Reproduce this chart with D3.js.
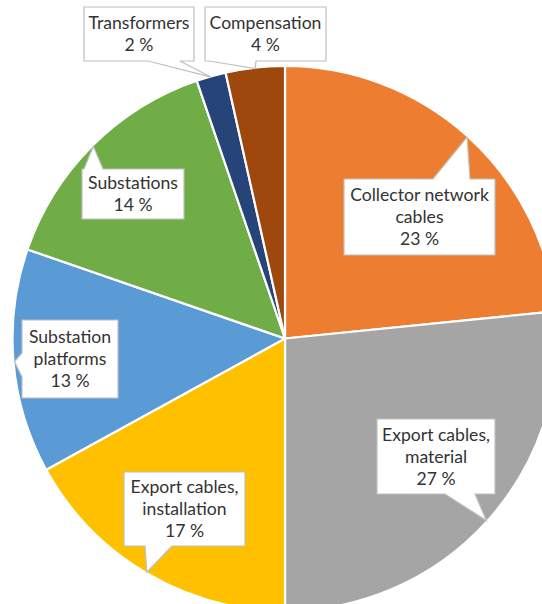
<!DOCTYPE html>
<html>
<head>
<meta charset="utf-8">
<script src="https://cdn.jsdelivr.net/npm/d3@7"></script>
<style>
html,body{margin:0;padding:0;background:#fff;}
svg{display:block;}
</style>
</head>
<body>
<svg id="chart" width="542" height="604"></svg>
<script>
// ---- data ----
const categories = ["Collector network cables", "Export cables, material", "Export cables, installation",
  "Substation platforms", "Substations", "Transformers", "Compensation"];
const shares = [23.4, 26.6, 17.0, 13.3, 14.45, 1.75, 3.5];
const shareLabels = ["23 %", "27 %", "17 %", "13 %", "14 %", "2 %", "4 %"];
const labelLines = [["Collector network", "cables"], ["Export cables,", "material"], ["Export cables,", "installation"],
  ["Substation", "platforms"], ["Substations"], ["Transformers"], ["Compensation"]];
const colors = ["#ED7D31", "#A5A5A5", "#FFC000", "#5B9BD5", "#70AD47", "#264478", "#9E480E"];

// ---- layout of callout boxes (x0,y0,x1,y1, side of wedge, wedge base) ----
const callouts = [
  {box: [344, 179, 495, 255], side: "top", base: [433, 470]},
  {box: [377, 419, 495, 494], side: "bottom", base: [445, 475]},
  {box: [124, 472, 245, 546], side: "bottom", base: [145, 172]},
  {box: [22, 320, 118, 398], side: "left", base: [353, 377]},
  {box: [82, 169, 184, 219], side: "top", base: [84, 103]},
  {box: [84, 7, 194, 61], side: "bottom", base: [148, 180]},
  {box: [205, 7, 326, 61], side: "bottom", base: [209, 256]}
];

const cx = 285, cy = 338.5, R = 272.5;
const svg = d3.select("#chart");
const data = categories.map((c, i) => ({cat: c, value: shares[i], i}));

const pie = d3.pie().value(d => d.value).sort(null);
const arc = d3.arc().innerRadius(0).outerRadius(R);
const arcs = pie(data);

const g = svg.append("g").attr("transform", `translate(${cx},${cy})`);
g.selectAll("path.slice").data(arcs).join("path")
  .attr("class", "slice")
  .attr("d", arc)
  .attr("fill", d => colors[d.data.i])
  .attr("stroke", "#fff")
  .attr("stroke-width", 2.2)
  .attr("stroke-linejoin", "round");

function calloutPath(c, tip) {
  const [x0, y0, x1, y1] = c.box;
  const [b0, b1] = c.base;
  const [tx, ty] = tip;
  const p = d3.path();
  p.moveTo(x0, y0);
  if (c.side === "top") { p.lineTo(b0, y0); p.lineTo(tx, ty); p.lineTo(b1, y0); }
  p.lineTo(x1, y0);
  p.lineTo(x1, y1);
  if (c.side === "bottom") { p.lineTo(b1, y1); p.lineTo(tx, ty); p.lineTo(b0, y1); }
  p.lineTo(x0, y1);
  if (c.side === "left") { p.lineTo(x0, b1); p.lineTo(tx, ty); p.lineTo(x0, b0); }
  p.closePath();
  return p.toString();
}

const lg = svg.append("g").attr("class", "callouts");
arcs.forEach((a, k) => {
  const c = callouts[k];
  const mid = (a.startAngle + a.endAngle) / 2;
  const rt = R - 1;
  const tip = [cx + rt * Math.sin(mid), cy - rt * Math.cos(mid)];
  lg.append("path")
    .attr("d", calloutPath(c, tip))
    .attr("fill", "#fff")
    .attr("stroke", "#BFBFBF")
    .attr("stroke-width", 1.2)
    .attr("stroke-linejoin", "miter");
  const lines = labelLines[k].concat([shareLabels[k]]);
  const lh = 22;
  const mx = (c.box[0] + c.box[2]) / 2, my = (c.box[1] + c.box[3]) / 2;
  const t = lg.append("text")
    .attr("x", mx)
    .attr("text-anchor", "middle")
    .attr("font-family", "Lato, 'Open Sans', sans-serif")
    .attr("font-size", 17.6)
    .attr("fill", "#333333");
  lines.forEach((ln, j) => {
    t.append("tspan")
      .attr("x", mx)
      .attr("y", my + (j - (lines.length - 1) / 2) * lh)
      .attr("dy", "0.36em")
      .text(ln);
  });
});
</script>
</body>
</html>
